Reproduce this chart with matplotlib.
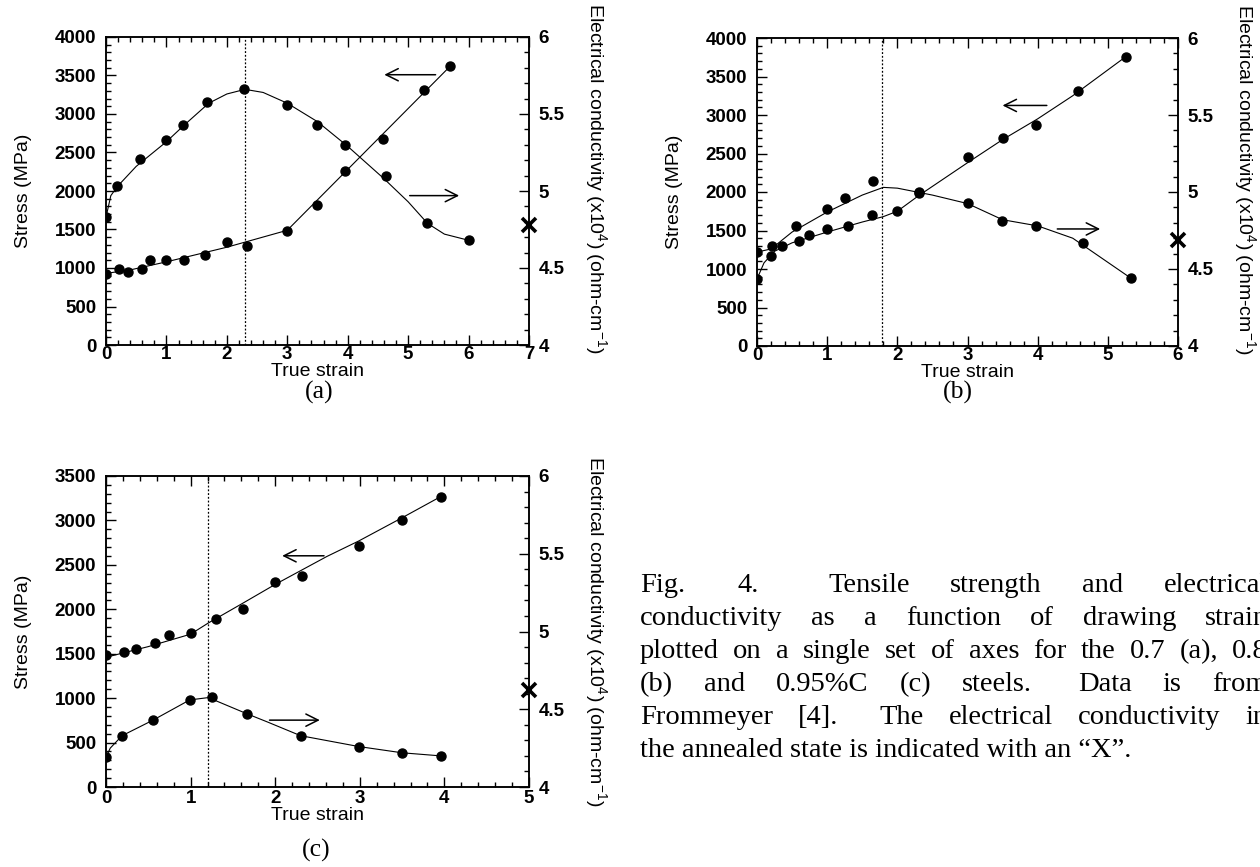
import matplotlib
matplotlib.use('Agg')
import matplotlib.pyplot as plt
from matplotlib.ticker import MultipleLocator, FormatStrFormatter

plt.rcParams['font.family'] = 'Liberation Sans'
plt.rcParams['font.weight'] = 'bold'

W, H = 1260, 867

# ---- panel (a), 0.7%C ----
a_strain_s = [0, 0.22, 0.37, 0.59, 0.73, 1.0, 1.29, 1.64, 2.0, 2.33, 3.0, 3.5, 3.96, 4.58, 5.27, 5.70]
a_stress = [923, 984, 949, 984, 1101, 1101, 1101, 1174, 1339, 1287, 1486, 1820, 2266, 2674, 3315, 3627]
a_fit_strain_s = [0, 0.4, 1.0, 2.0, 3.0, 5.72]
a_fit_stress = [930, 975, 1080, 1270, 1490, 3640]
a_strain_c = [0, 0.19, 0.56, 1.0, 1.27, 1.67, 2.29, 2.99, 3.5, 3.96, 4.63, 5.32, 6.0]
a_cond = [4.83, 5.03, 5.21, 5.33, 5.43, 5.58, 5.66, 5.56, 5.43, 5.30, 5.10, 4.79, 4.68]
a_fit_strain_c = [0, 0.08, 0.19, 0.5, 1.0, 1.3, 1.7, 2.0, 2.3, 2.6, 3.0, 3.5, 4.0, 4.6, 5.0, 5.32, 5.6, 6.0]
a_fit_cond = [4.83, 4.97, 5.03, 5.16, 5.32, 5.43, 5.57, 5.63, 5.66, 5.64, 5.57, 5.45, 5.29, 5.08, 4.93, 4.79, 4.72, 4.68]
a_peak = 2.3
a_annealed = 4.78

# ---- panel (b), 0.8%C ----
b_strain_s = [0, 0.195, 0.36, 0.6, 0.74, 1.0, 1.3, 1.64, 2.0, 2.31, 3.0, 3.5, 3.97, 4.58, 5.26]
b_stress = [873, 1172, 1302, 1367, 1440, 1523, 1557, 1696, 1748, 1990, 2454, 2706, 2866, 3317, 3759]
b_fit_strain_s = [0, 0.1, 0.25, 0.5, 1.0, 1.5, 1.8, 2.0, 2.3, 3.0, 3.5, 4.0, 4.5, 5.26]
b_fit_stress = [870, 1080, 1230, 1340, 1480, 1610, 1680, 1750, 1950, 2380, 2680, 2950, 3250, 3760]
b_strain_c = [0, 0.21, 0.56, 1.0, 1.26, 1.66, 2.31, 3.0, 3.49, 3.97, 4.64, 5.33]
b_cond = [4.61, 4.65, 4.78, 4.89, 4.96, 5.07, 5.0, 4.93, 4.81, 4.78, 4.67, 4.44]
b_fit_strain_c = [0, 0.2, 0.5, 1.0, 1.5, 1.8, 2.0, 2.5, 3.0, 3.5, 4.0, 4.5, 5.33]
b_fit_cond = [4.61, 4.63, 4.74, 4.87, 4.98, 5.03, 5.025, 4.98, 4.925, 4.82, 4.78, 4.70, 4.44]
b_peak = 1.78
b_annealed = 4.69

# ---- panel (c), 0.95%C ----
c_strain_s = [0, 0.217, 0.36, 0.58, 0.745, 1.0, 1.30, 1.62, 2.0, 2.32, 2.99, 3.5, 3.96]
c_stress = [1481, 1515, 1553, 1624, 1706, 1736, 1886, 1999, 2302, 2374, 2711, 3003, 3269]
c_fit_strain_s = [0, 0.5, 1.0, 1.21, 1.62, 2.0, 2.61, 2.99, 3.5, 3.96]
c_fit_stress = [1460, 1580, 1720, 1846, 2070, 2280, 2594, 2770, 3030, 3270]
c_strain_c = [0, 0.19, 0.556, 0.99, 1.25, 1.67, 2.30, 2.99, 3.5, 3.96]
c_cond = [4.19, 4.33, 4.43, 4.56, 4.58, 4.47, 4.33, 4.26, 4.22, 4.20]
c_fit_strain_c = [0, 0.05, 0.19, 0.556, 0.99, 1.21, 1.67, 1.9, 2.30, 2.99, 3.5, 3.96]
c_fit_cond = [4.19, 4.25, 4.33, 4.43, 4.56, 4.575, 4.47, 4.42, 4.33, 4.26, 4.22, 4.20]
c_peak = 1.21
c_annealed = 4.626

fig = plt.figure(figsize=(W / 100, H / 100), dpi=100)


def panel(rect, xmax, ymax, xs, ys, fxs, fys, xc, yc, fxc, fyc, peak, annealed,
          larrow, rarrow, label_y, xpad, xlabpad):
    l, t, r, b = rect
    ax = fig.add_axes([l / W, 1 - b / H, (r - l) / W, (b - t) / H])
    ax2 = ax.twinx()

    ax.plot(fxs, fys, color='k', lw=0.8)
    ax.plot(xs, ys, 'o', color='k', ms=6.5)
    ax2.plot(fxc, fyc, color='k', lw=0.8)
    ax2.plot(xc, yc, 'o', color='k', ms=6.5)
    ax.axvline(peak, color='k', ls=(0, (1.5, 1.5)), lw=0.9)
    ax2.plot(xmax, annealed, marker='x', ms=9.5, mew=2.6, color='k', clip_on=False, zorder=5)

    # the two direction arrows (stress <- , conductivity ->)
    ax.annotate('', xy=(larrow[0], larrow[2]), xytext=(larrow[1], larrow[2]),
                arrowprops=dict(arrowstyle='->', lw=1.1, color='k', mutation_scale=22))
    ax2.annotate('', xy=(rarrow[1], rarrow[2]), xytext=(rarrow[0], rarrow[2]),
                 arrowprops=dict(arrowstyle='->', lw=1.1, color='k', mutation_scale=22))

    ax.set_xlim(0, xmax)
    ax.set_ylim(0, ymax)
    ax2.set_ylim(4, 6)
    ax.xaxis.set_major_locator(MultipleLocator(1))
    ax.xaxis.set_minor_locator(MultipleLocator(0.2))
    ax.yaxis.set_major_locator(MultipleLocator(500))
    ax.yaxis.set_minor_locator(MultipleLocator(100))
    ax2.yaxis.set_major_locator(MultipleLocator(0.5))
    ax2.yaxis.set_minor_locator(MultipleLocator(0.1))
    ax2.yaxis.set_major_formatter(FormatStrFormatter('%g'))

    ax.tick_params(axis='x', which='both', direction='in', top=True, labelsize=13.5, pad=xpad)
    ax.tick_params(axis='y', which='both', direction='in', labelsize=13.5, pad=7)
    ax2.tick_params(axis='y', which='both', direction='in', labelsize=13.5, pad=7)
    for a in (ax, ax2):
        a.tick_params(which='major', length=7, width=1)
        a.tick_params(which='minor', length=3.5, width=1)
        for s in a.spines.values():
            s.set_linewidth(1.1)

    ax.set_xlabel('True strain', fontsize=14, labelpad=xlabpad)
    ax.set_ylabel('Stress (MPa)', fontsize=14, fontweight='normal')
    ax.yaxis.set_label_coords(-0.176, 0.5)
    ax2.set_ylabel(r'Electrical conductivity (x10$^{\mathregular{4}}$) (ohm-cm$^{\mathregular{-1}}$)',
                   fontsize=14, fontweight='normal', rotation=270, va='center')
    ax2.yaxis.set_label_coords(1.157, label_y)
    return ax


panel((106, 37, 529, 345), 7, 4000, a_strain_s, a_stress, a_fit_strain_s, a_fit_stress,
      a_strain_c, a_cond, a_fit_strain_c, a_fit_cond, a_peak, a_annealed,
      (4.56, 5.50, 3510), (4.98, 5.89, 4.97), 0.54, 0.5, 0)
panel((757, 38, 1178, 346), 6, 4000, b_strain_s, b_stress, b_fit_strain_s, b_fit_stress,
      b_strain_c, b_cond, b_fit_strain_c, b_fit_cond, b_peak, b_annealed,
      (3.46, 4.17, 3124), (4.24, 4.93, 4.76), 0.54, 0.5, 0)
panel((106, 476, 529, 787), 5, 3500, c_strain_s, c_stress, c_fit_strain_s, c_fit_stress,
      c_strain_c, c_cond, c_fit_strain_c, c_fit_cond, c_peak, c_annealed,
      (2.05, 2.61, 2602), (1.90, 2.56, 4.43), 0.5, 2, 0)

serif = dict(family='Liberation Serif', fontweight='normal')
fig.text(319 / W, 1 - 392 / H, '(a)', fontsize=18.5, ha='center', va='center', **serif)
fig.text(958 / W, 1 - 392 / H, '(b)', fontsize=18.5, ha='center', va='center', **serif)
fig.text(316 / W, 1 - 850 / H, '(c)', fontsize=18.5, ha='center', va='center', **serif)

# caption, justified line by line
caption = [
    (['Fig.', '4.', 'Tensile', 'strength', 'and', 'electrical'], [1.3, 1.7, 1, 1, 1]),
    ('conductivity as a function of drawing strain'.split(), None),
    ('plotted on a single set of axes for the 0.7 (a), 0.8'.split(), None),
    ('(b) and 0.95%C (c) steels. Data is from'.split(), [1, 1, 1, 1, 1.5, 1, 1]),
    ('Frommeyer [4]. The electrical conductivity in'.split(), [1, 1.6, 1, 1, 1]),
]
last_line = 'the annealed state is indicated with an \u201cX\u201d.'
cap_size = 20.5

fig.canvas.draw()
rend = fig.canvas.get_renderer()
x0, x1 = 640, 1268
y = 592
for words, weights in caption:
    txts = [fig.text(0, 1 - y / H, w, fontsize=cap_size, va='baseline', **serif) for w in words]
    widths = [t.get_window_extent(rend).width for t in txts]
    if weights is None:
        weights = [1] * (len(words) - 1)
    unit = (x1 - x0 - sum(widths)) / sum(weights)
    x = x0
    for i, (t, w) in enumerate(zip(txts, widths)):
        t.set_x(x / W)
        if i < len(weights):
            x += w + unit * weights[i]
    y += 33
fig.text(x0 / W, 1 - y / H, last_line, fontsize=cap_size, va='baseline', **serif)

fig.savefig('out.png', dpi=100)
